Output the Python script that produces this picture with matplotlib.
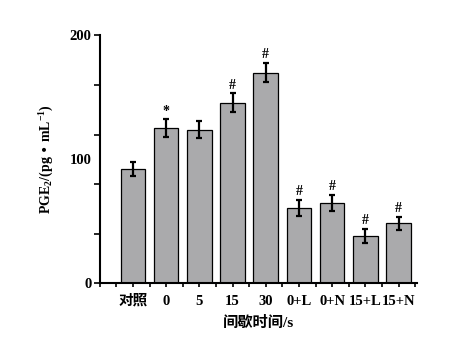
import numpy as np
import matplotlib
matplotlib.use("Agg")
import matplotlib.pyplot as plt

plt.rcParams['font.family'] = ['Liberation Serif', 'Noto Sans CJK SC']
plt.rcParams['font.weight'] = 'bold'
plt.rcParams['mathtext.default'] = 'regular'

groups = ['对照', '0', '5', '15', '30', '0+L', '0+N', '15+L', '15+N']
pge2 = [92.5, 125, 124, 145.5, 170, 61, 65, 38.5, 48.5]
pge2_err = [5.5, 7.2, 6.8, 7.6, 7.7, 6.5, 6.5, 5.6, 5.3]
marks = ['', '*', '', '#', '#', '#', '#', '#', '#']

fig = plt.figure(figsize=(4.6, 3.53), dpi=100)
ax = fig.add_axes([0.217, 0.197, 0.689, 0.703])

x = np.arange(1, len(groups) + 1)
ax.bar(x, pge2, width=0.74, color='#aaaaac', edgecolor='black', linewidth=0.9, zorder=2)
ax.errorbar(x, pge2, yerr=pge2_err, fmt='none', ecolor='black', elinewidth=1.6,
            capsize=2.5, capthick=1.6, zorder=3)

for xi, v, e, m in zip(x, pge2, pge2_err, marks):
    if m:
        ax.text(xi, v + e + 1.5, m, ha='center', va='bottom', fontsize=10, fontweight='bold')

ax.set_xlim(0, 9.55)
ax.set_ylim(0, 200)

# bar ticks carry labels, half-way ticks in between
ax.set_xticks(x)
ax.set_xticklabels(groups, fontsize=10.5, fontweight='bold')
ax.set_xticks([0] + list(np.arange(0.5, 9.51, 1.0)), minor=True)
ax.tick_params(axis='x', which='both', direction='out', length=3, width=1.2, pad=5)

# ticks every 40, labels at 0 / 100 / 200
ax.set_yticks([0, 40, 80, 120, 160, 200])
ax.set_yticklabels(['0', '', '', '', '', '200'], fontsize=10.5, fontweight='bold')
ax.set_yticks([100], minor=True)
ax.set_yticklabels(['100'], minor=True, fontsize=10.5, fontweight='bold')
ax.tick_params(axis='y', which='major', direction='out', length=4, width=1.2, pad=2)
ax.tick_params(axis='y', which='minor', length=0, pad=6)

for s in ['top', 'right']:
    ax.spines[s].set_visible(False)
for s in ['left', 'bottom']:
    ax.spines[s].set_linewidth(1.5)

ax.set_ylabel('PGE$_2$/(pg • mL$^{-1}$)', fontsize=10, fontweight='bold', labelpad=10)
ax.set_xlabel('间歇时间/s', fontsize=11, fontweight='bold', labelpad=6)

fig.savefig('out.png', dpi=100)
